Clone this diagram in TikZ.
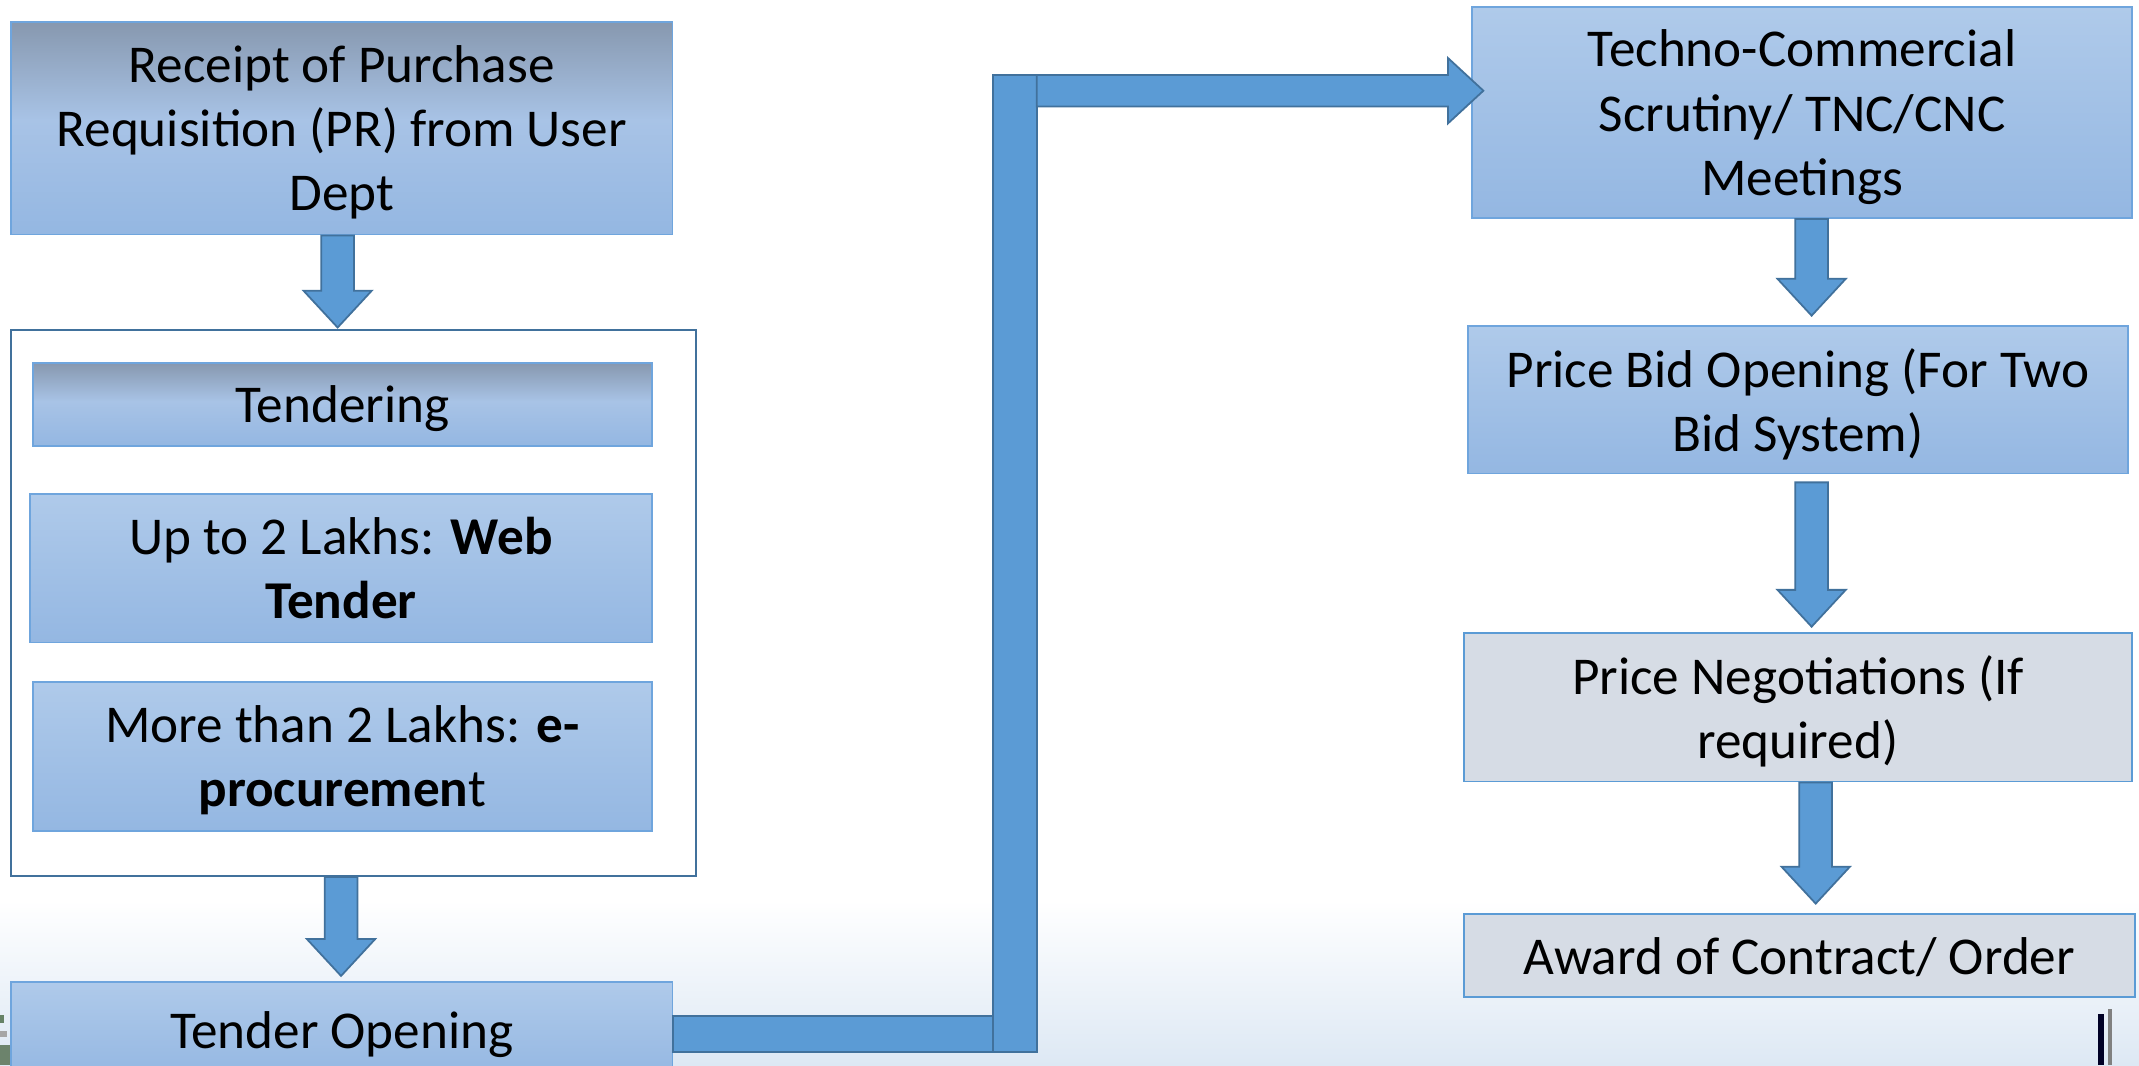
\documentclass[tikz,border=0pt]{standalone}
\usepackage{fontspec}
\setmainfont{Carlito}
\usetikzlibrary{calc}
\definecolor{boxtop}{HTML}{AFCAEA}
\definecolor{boxbot}{HTML}{94B7E2}
\definecolor{boxmid}{HTML}{A8C3E6}
\definecolor{darkhead}{HTML}{8798AF}
\definecolor{boxline}{HTML}{6FA5DD}
\definecolor{greyfill}{HTML}{D6DCE5}
\definecolor{greyline}{HTML}{5B9BD5}
\definecolor{arrowfill}{HTML}{5B9BD5}
\definecolor{arrowline}{HTML}{41719C}
\definecolor{outerline}{HTML}{41719C}
\definecolor{bgblue}{HTML}{DDE8F4}
\pgfdeclareverticalshading{darktopshade}{100bp}{color(0bp)=(boxbot); color(25bp)=(boxbot); color(52bp)=(boxmid); color(75bp)=(darkhead); color(100bp)=(darkhead)}
\tikzset{
  basebox/.style={line width=1.2pt, inner sep=0pt, align=center, text=black,
    text depth=0pt, font=\fontsize{39}{47}\selectfont},
  lightbox/.style={basebox, draw=boxline, top color=boxtop, bottom color=boxbot},
  darkbox/.style={basebox, draw=boxline, shading=darktopshade},
  greybox/.style={basebox, draw=greyline, fill=greyfill},
  outerbox/.style={draw=outerline, fill=white, line width=1.8pt, inner sep=0pt},
  blockarrow/.style={fill=arrowfill, draw=arrowline, line width=1.3pt, line join=miter}
}
\begin{document}
\begin{tikzpicture}[x=1pt,y=-1pt]
\clip (0,0) rectangle (1568,781);
% background
\fill[white] (0,0) rectangle (1568,662);
\shade[top color=white, bottom color=bgblue] (0,660) rectangle (1568,781);
% traces of the background photo
\fill[black!45!green!20!gray] (0,744) rectangle (3,750);
\fill[gray!70] (0,756) rectangle (5,760);
\fill[black!40!green!15!gray] (0,766) rectangle (8,781);
\fill[black!85!blue] (1538,743) rectangle (1542,781);
\fill[gray] (1545,740) rectangle (1548,781);

% left column
\node[darkbox, minimum width=485pt, minimum height=156pt] (pr) at (250.5,94)
  {Receipt of Purchase\\Requisition (PR) from User\\Dept};
\node[outerbox, minimum width=502pt, minimum height=400pt] (tenderblock) at (259,442) {};
\node[darkbox, minimum width=454pt, minimum height=61pt] (tendering) at (251,296.5) {Tendering};
\node[lightbox, minimum width=456pt, minimum height=109pt] (web) at (250,416.5)
  {Up to 2 Lakhs: \textbf{Web}\\\textbf{Tender}};
\node[lightbox, minimum width=454pt, minimum height=109pt] (eproc) at (251,554.5)
  {More than 2 Lakhs: \textbf{e-}\\\textbf{procuremen}t};
\node[lightbox, minimum width=485pt, minimum height=70pt] (tender) at (250.5,755) {Tender Opening};

% right column
\node[lightbox, minimum width=484pt, minimum height=155pt] (techno) at (1321,82.5)
  {Techno-Commercial\\Scrutiny/ TNC/CNC\\Meetings};
\node[lightbox, minimum width=484pt, minimum height=108pt] (pricebid) at (1318,293)
  {Price Bid Opening (For Two\\Bid System)};
\node[greybox, minimum width=490pt, minimum height=109pt] (neg) at (1318,518.5)
  {Price Negotiations (If\\required)};
\node[greybox, minimum width=492pt, minimum height=61pt] (award) at (1319,700.5)
  {Award of Contract/ Order};

% downward block arrows
\foreach \ax/\src/\dst/\sg/\eg in {247.5/pr/tenderblock/0/1, 250/tenderblock/tender/0/4,
    1328/techno/pricebid/0/7, 1328/pricebid/neg/6/4, 1331/neg/award/0/7}{
  \coordinate (axc) at (\ax,0);
  \coordinate (s) at (\src.south -| axc);
  \coordinate (t) at (\dst.north -| axc);
  \draw[blockarrow] ($(s)+(-12,\sg)$) -- ($(s)+(12,\sg)$)
    -- ($(t)+(12,-27-\eg)$) -- ($(t)+(25,-27-\eg)$)
    -- ($(t)+(0,-\eg)$) -- ($(t)+(-25,-27-\eg)$)
    -- ($(t)+(-12,-27-\eg)$) -- cycle;
}

% elbow connector from Tender Opening to Techno-Commercial
\coordinate (elow) at (744,758);
\coordinate (ehigh) at (744,66.5);
\coordinate (tin) at (techno.west |- ehigh);
\draw[blockarrow] ($(tender.east |- elow)+(0,-13)$) rectangle ($(elow)+(-16,13)$);
\draw[blockarrow] ($(ehigh)+(-16,-11.5)$) rectangle ($(elow)+(16,13)$);
\draw[blockarrow] ($(ehigh)+(16,-11.5)$) -- ($(tin)+(-17,-11.5)$)
  -- ($(tin)+(-17,-24)$) -- ($(tin)+(9,0)$)
  -- ($(tin)+(-17,24)$) -- ($(tin)+(-17,11.5)$)
  -- ($(ehigh)+(16,11.5)$) -- cycle;
\end{tikzpicture}
\end{document}
